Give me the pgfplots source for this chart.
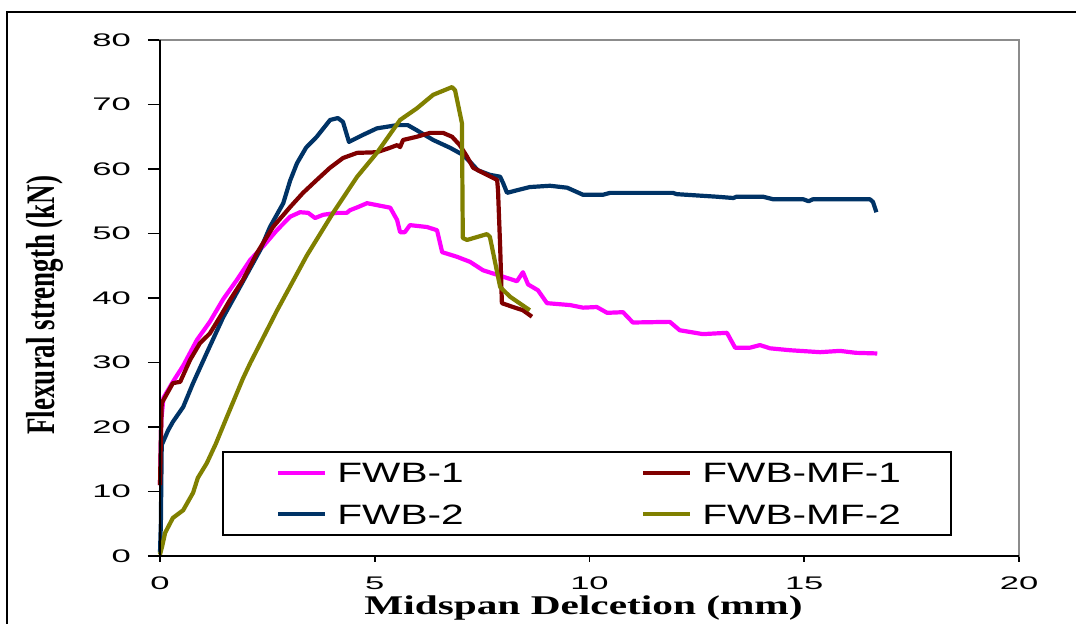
\documentclass[border=0pt]{standalone}
\usepackage{fontspec}
\setmainfont{Liberation Sans}
\newfontfamily\tickfont[FakeStretch=1.9]{Liberation Sans}
\newfontfamily\legfont[FakeStretch=1.45]{Liberation Sans}
\newfontfamily\xlabfont[FakeStretch=1.53]{Liberation Serif}
\newfontfamily\ylabfont{Liberation Serif}
\usepackage{pgfplots}
\pgfplotsset{compat=1.18}
\definecolor{cMag}{HTML}{FF00FF}
\definecolor{cNavy}{HTML}{003366}
\definecolor{cRed}{HTML}{800000}
\definecolor{cOlive}{HTML}{808000}
\begin{document}
\begin{tikzpicture}
\useasboundingbox (0,0) rectangle (538pt,312pt);
\fill[white] (0,0) rectangle (538pt,312pt);
\draw[line width=1pt] (3.5pt,-5pt) -- (3.5pt,306pt) -- (545pt,306pt);
\begin{axis}[
  name=ax,
  scale only axis, width=429.5pt, height=258pt,
  at={(80pt,34pt)}, anchor=south west,
  xmin=0,xmax=20,ymin=0,ymax=80,
  xtick={0,5,10,15,20}, ytick={0,10,...,80},
  axis line style={draw=gray!90, line width=0.8pt},
  tick align=outside, xtick pos=bottom, ytick pos=left,
  major tick length=6pt,
  tick style={black, line width=0.8pt},
  xtick style={/pgfplots/major tick length=3pt},
  /pgf/number format/assume math mode=true,
  ticklabel style={font=\tickfont\fontsize{9.1}{11}\selectfont},
  yticklabel style={xshift=-5pt},
  xticklabel style={yshift=-0.75pt},
  xlabel={\xlabfont\bfseries\fontsize{13.5}{16}\selectfont Midspan Delcetion (mm)},
  xlabel style={at={(axis description cs:0.493,-0.1143)}, anchor=base, inner sep=0pt},
  ylabel={\scalebox{1}[1.5]{\ylabfont\bfseries\fontsize{13.5}{16}\selectfont Flexural strength (kN)}},
  ylabel style={at={(axis description cs:-0.1339,0.4864)}, anchor=center, inner sep=0pt},
  clip=false,
]
\addplot[cMag, line width=2.1pt, line join=round] coordinates {
(0,11) (0.03,21) (0.08,24.5) (0.3,27) (0.54,29.5) (0.86,33.5) (1.16,36.3) (1.47,39.8) (1.79,42.8) (2.1,45.9) (2.4,48) (2.72,50.5) (3.03,52.6) (3.26,53.3) (3.45,53.2) (3.61,52.4) (3.8,52.9) (4.12,53.2) (4.35,53.2) (4.42,53.6) (4.61,54.1) (4.82,54.7) (5.05,54.4) (5.36,54.0) (5.52,52.1) (5.59,50.2) (5.7,50.2) (5.82,51.3) (6.22,51.0) (6.45,50.5) (6.57,47.1) (6.91,46.4) (7.22,45.6) (7.52,44.3) (7.99,43.3) (8.31,42.6) (8.45,44.0) (8.57,42.1) (8.8,41.2) (9.01,39.2) (9.55,38.9) (9.85,38.5) (10.17,38.6) (10.41,37.7) (10.78,37.8) (11.01,36.2) (11.87,36.3) (12.1,35.0) (12.64,34.4) (13.2,34.6) (13.39,32.3) (13.74,32.3) (13.97,32.7) (14.2,32.2) (14.67,31.9) (15.37,31.6) (15.83,31.8) (16.2,31.5) (16.7,31.4)
};
\addplot[cNavy, line width=2.1pt, line join=round] coordinates {
(0,0.5) (0.02,5) (0.04,17.2) (0.19,19.5) (0.3,20.8) (0.54,23.1) (0.77,26.8) (1.09,31.5) (1.47,37) (1.86,41.7) (2.33,47.4) (2.56,51) (2.87,54.7) (3.03,58.2) (3.19,60.9) (3.4,63.3) (3.65,65) (3.96,67.6) (4.14,67.9) (4.26,67.3) (4.4,64.2) (4.73,65.3) (5.05,66.3) (5.52,66.8) (5.77,66.8) (5.98,66.0) (6.36,64.5) (6.75,63.3) (7.05,62.2) (7.22,61.1) (7.4,59.8) (7.68,59.1) (7.92,58.8) (7.99,57.8) (8.08,56.3) (8.31,56.7) (8.61,57.2) (9.08,57.4) (9.48,57.1) (9.85,56.0) (10.31,56.0) (10.48,56.3) (11.94,56.3) (12.03,56.1) (12.5,55.9) (12.97,55.7) (13.35,55.5) (13.42,55.7) (14.04,55.7) (14.28,55.3) (14.98,55.3) (15.1,55.0) (15.2,55.3) (16.53,55.3) (16.6,54.9) (16.68,53.3)
};
\addplot[cRed, line width=2.1pt, line join=round] coordinates {
(0,11) (0.02,18) (0.04,23.7) (0.3,26.8) (0.47,27) (0.7,30.4) (0.93,33) (1.16,34.5) (1.4,37.1) (1.63,39.7) (1.93,42.8) (2.26,47) (2.63,51) (3.03,54.1) (3.33,56.3) (3.65,58.3) (3.96,60.2) (4.26,61.7) (4.59,62.5) (5.05,62.6) (5.36,63.3) (5.52,63.7) (5.59,63.4) (5.66,64.5) (5.98,65.0) (6.29,65.6) (6.59,65.6) (6.8,65.0) (6.98,63.7) (7.15,61.9) (7.29,60.2) (7.52,59.4) (7.85,58.3) (7.87,56.7) (7.92,47.9) (7.96,39.2) (8.22,38.6) (8.45,38.1) (8.66,37.1)
};
\addplot[cOlive, line width=2.1pt, line join=round] coordinates {
(0,0.2) (0.05,1.5) (0.12,3.6) (0.3,5.9) (0.54,7.1) (0.77,9.8) (0.88,12.1) (1.09,14.4) (1.3,17.4) (1.56,21.6) (1.93,27.5) (2.1,29.9) (2.72,38.0) (3.42,46.6) (4.03,53.2) (4.59,58.8) (5.05,62.5) (5.59,67.6) (5.98,69.4) (6.36,71.5) (6.8,72.7) (6.87,72.2) (7.03,67.1) (7.05,49.3) (7.15,49.0) (7.61,49.9) (7.68,49.5) (7.92,41.7) (8.15,40.2) (8.61,38.1)
};
\end{axis}
\draw[black, line width=1pt] (ax.north west) -- (ax.south west) -- (ax.south east);
% legend
\draw[line width=0.8pt, fill=white] (111.5pt,44.5pt) rectangle (475.5pt,86pt);
\draw[cMag, line width=1.6pt] (139pt,75.5pt) -- (162.5pt,75.5pt);
\draw[cNavy, line width=1.6pt] (139pt,55pt) -- (162.5pt,55pt);
\draw[cRed, line width=1.6pt] (321.5pt,75.5pt) -- (345pt,75.5pt);
\draw[cOlive, line width=1.6pt] (321.5pt,55pt) -- (345pt,55pt);
\node[anchor=base west, inner sep=0pt, font=\legfont\fontsize{14}{16}\selectfont] at (168.5pt,70.5pt) {FWB-1};
\node[anchor=base west, inner sep=0pt, font=\legfont\fontsize{14}{16}\selectfont] at (168.5pt,49.5pt) {FWB-2};
\node[anchor=base west, inner sep=0pt, font=\legfont\fontsize{14}{16}\selectfont] at (351pt,70.5pt) {FWB-MF-1};
\node[anchor=base west, inner sep=0pt, font=\legfont\fontsize{14}{16}\selectfont] at (351pt,49.5pt) {FWB-MF-2};
\end{tikzpicture}
\end{document}
